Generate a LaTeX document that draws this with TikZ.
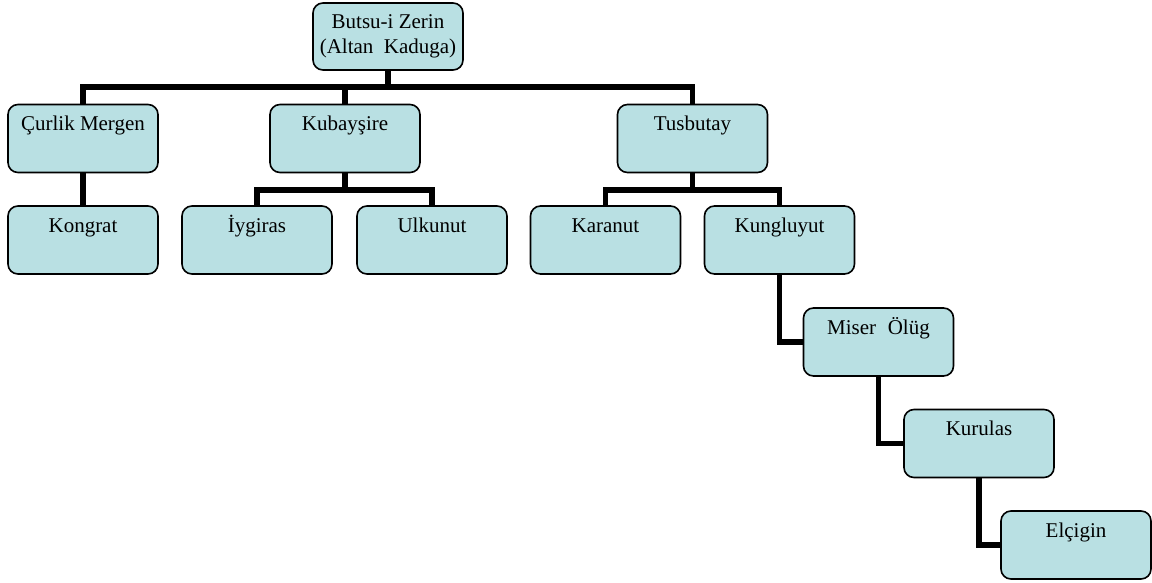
\documentclass[tikz,border=0pt]{standalone}
\usepackage{fontspec}
\setmainfont{Liberation Serif}
\definecolor{boxfill}{RGB}{185,224,227}

\begin{document}
\begin{tikzpicture}[x=1pt,y=-1pt,
    box/.style={draw,line width=1.6pt,fill=boxfill,rounded corners=10pt,minimum width=150pt,minimum height=68pt,inner ysep=4pt,text height=22pt,text depth=38pt,font=\fontsize{21}{25}\selectfont},
    topbox/.style={draw,line width=1.6pt,fill=boxfill,rounded corners=10pt,minimum width=150pt,minimum height=67pt,align=center,font=\fontsize{21}{25}\selectfont},
    link/.style={line width=5.5pt}]
  \useasboundingbox (0,0) rectangle (1152,582);
  \coordinate (bus) at (0,87);
  \coordinate (subbus) at (0,190);
  \node[topbox] (root) at (388,36.5) {Butsu-i Zerin\\(Altan\hskip0.5em Kaduga)};
  \node[box] (curlik) at (83,138.5) {Çurlik Mergen};
  \node[box] (kubay) at (345,138.5) {Kubayşire};
  \node[box] (tus) at (692.5,138.5) {Tusbutay};
  \node[box] (kongrat) at (83,240) {Kongrat};
  \node[box] (iygiras) at (257,240) {İygiras};
  \node[box] (ulkunut) at (432,240) {Ulkunut};
  \node[box] (karanut) at (605.5,240) {Karanut};
  \node[box] (kung) at (779.5,240) {Kungluyut};
  \node[box] (miser) at (878.5,342) {Miser\hskip0.55em Ölüg};
  \node[box] (kurulas) at (979,443.5) {Kurulas};
  \node[box] (elcigin) at (1076,545) {Elçigin};
  \draw[link] (root.south) -- (root.south |- bus);
  \draw[link] (root.south |- bus) -| (curlik.north);
  \draw[link] (root.south |- bus) -| (kubay.north);
  \draw[link] (root.south |- bus) -| (tus.north);
  \draw[link] (curlik.south) -- (kongrat.north);
  \draw[link] (kubay.south) -- (kubay.south |- subbus);
  \draw[link] (kubay.south |- subbus) -| (iygiras.north);
  \draw[link] (kubay.south |- subbus) -| (ulkunut.north);
  \draw[link] (tus.south) -- (tus.south |- subbus);
  \draw[link] (tus.south |- subbus) -| (karanut.north);
  \draw[link] (tus.south |- subbus) -| (kung.north);
  \draw[link] (kung.south) |- (miser.west);
  \draw[link] (miser.south) |- (kurulas.west);
  \draw[link] (kurulas.south) |- (elcigin.west);
\end{tikzpicture}
\end{document}
